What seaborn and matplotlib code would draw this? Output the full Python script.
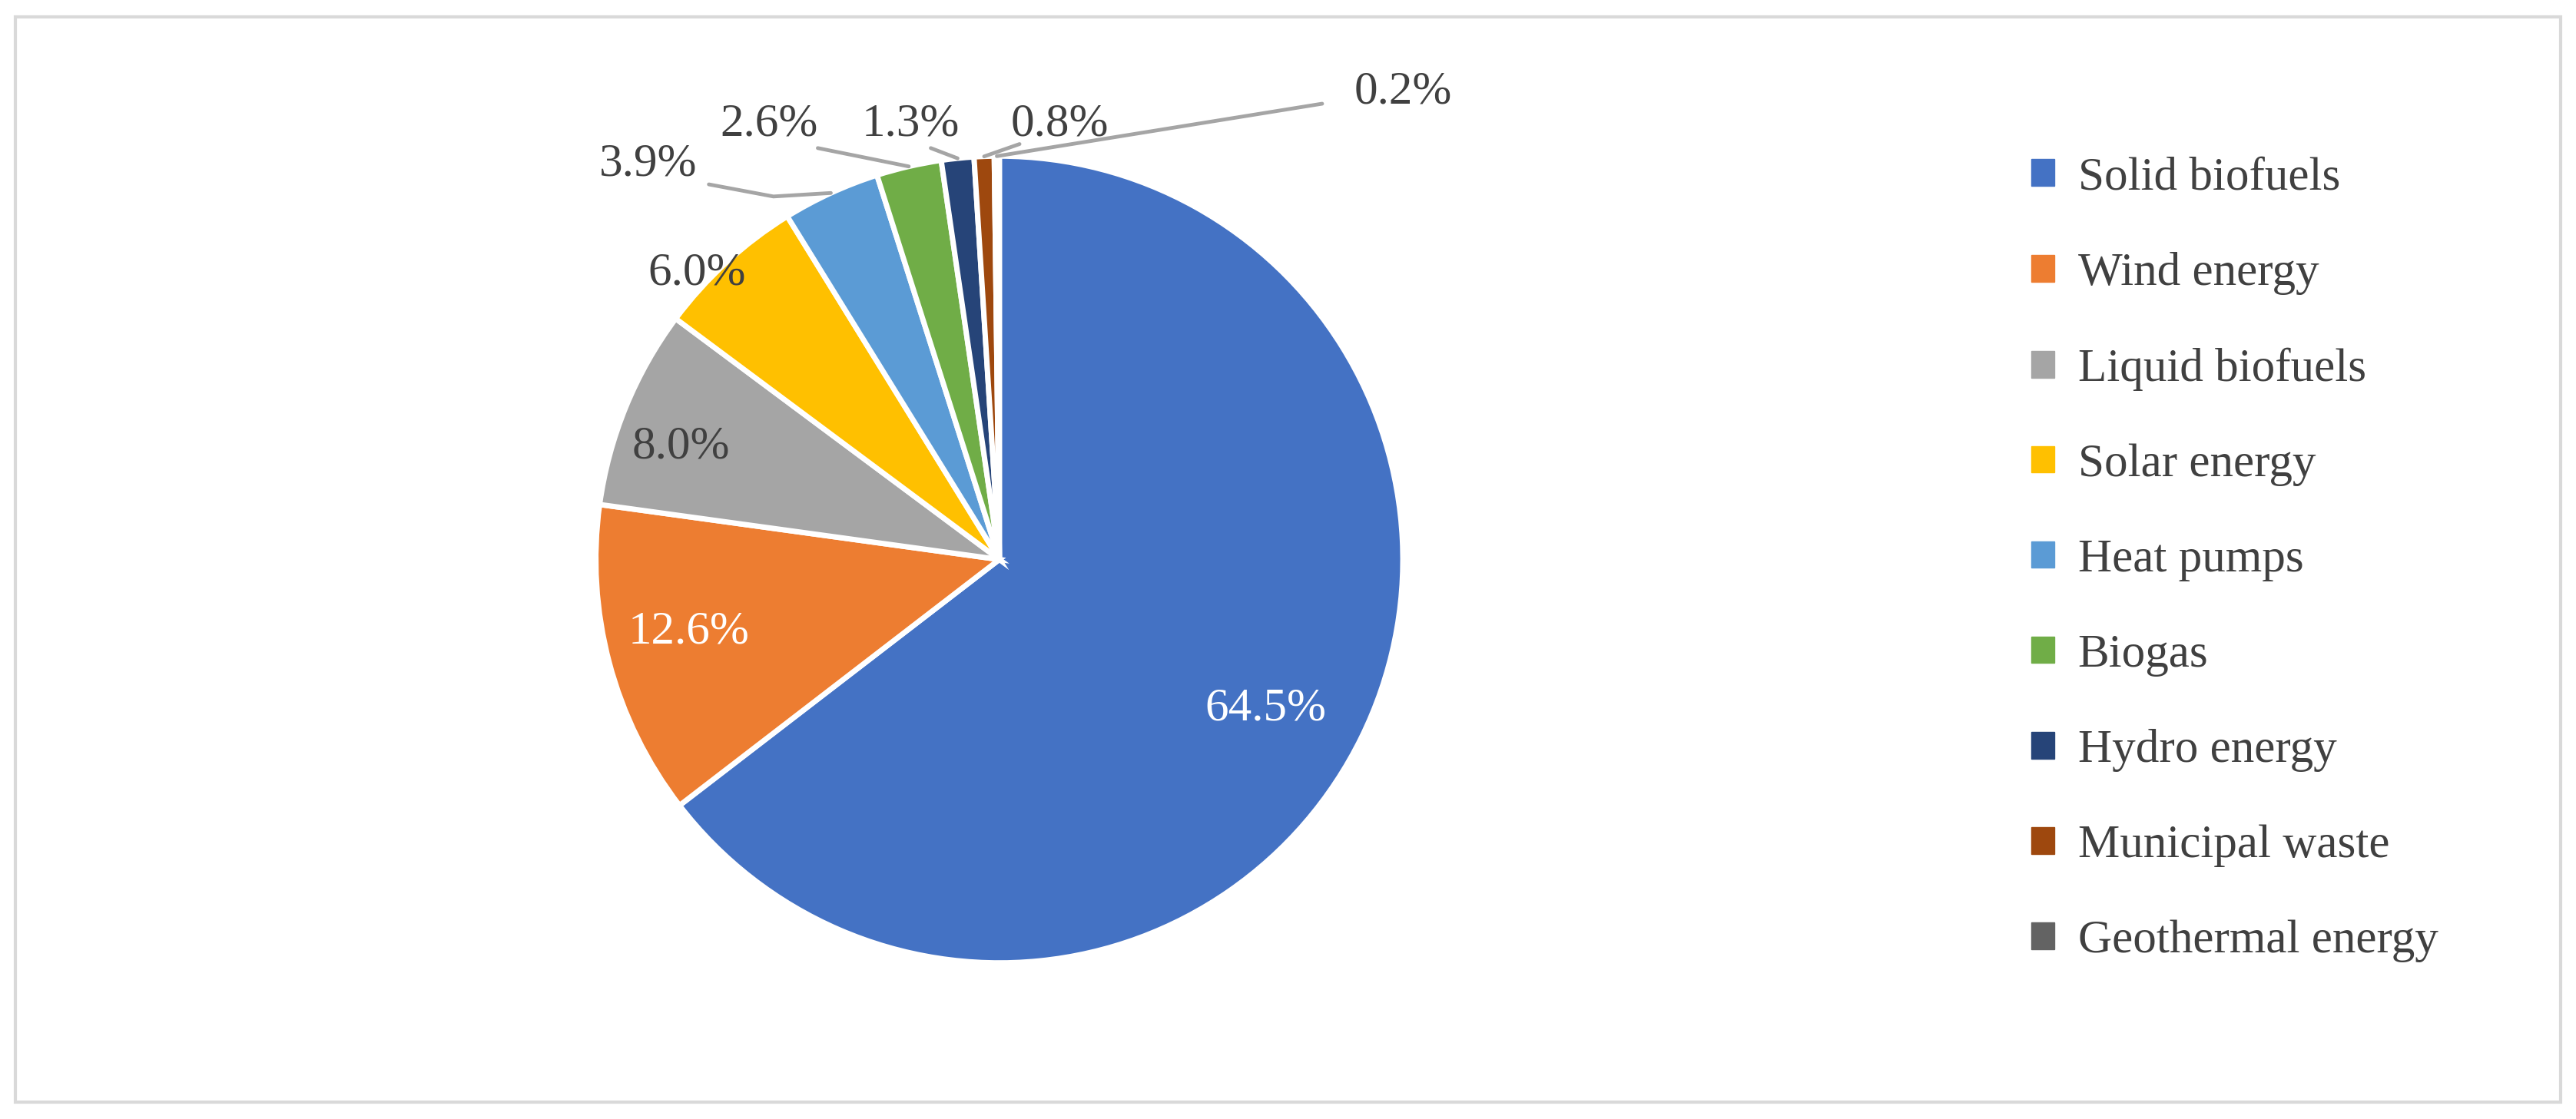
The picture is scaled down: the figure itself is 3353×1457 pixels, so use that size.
import matplotlib
matplotlib.use("Agg")
import matplotlib.pyplot as plt
import seaborn as sns
import numpy as np
from matplotlib.patches import Rectangle, Patch

sns.set_theme(style="white")
plt.rcParams['font.family'] = ['Liberation Serif', 'DejaVu Serif']

categories = ["Solid biofuels", "Wind energy", "Liquid biofuels", "Solar energy",
              "Heat pumps", "Biogas", "Hydro energy", "Municipal waste", "Geothermal energy"]
shares = [64.5, 12.6, 8.0, 6.0, 3.9, 2.6, 1.3, 0.8, 0.2]
colors = ["#4472C4", "#ED7D31", "#A5A5A5", "#FFC000", "#5B9BD5",
          "#70AD47", "#264478", "#9E480E", "#636363"]

# label placement (data units, pie radius = 1)
label_pos = [(0.66, -0.37), (-0.77, -0.18), (-0.79, 0.28), (-0.75, 0.71),
             (-0.87, 0.98), (-0.57, 1.08), (-0.22, 1.08), (0.15, 1.08), (1.0, 1.16)]
label_col = ["white", "white", "#404040"] + ["#404040"] * 6
# leader line anchor near each label (None = no leader)
anchor = [None, None, None, None, (-0.72, 0.93), (-0.45, 1.02), (-0.17, 1.02),
          (0.05, 1.03), (0.8, 1.13)]

fig = plt.figure(figsize=(33.53, 14.57), dpi=100)
ax = fig.add_axes([0.1707, 0.0, 0.4345, 1.0])
wedges, _ = ax.pie(shares, colors=colors, startangle=90, counterclock=False,
                   wedgeprops=dict(edgecolor="white", linewidth=5))
ax.set_xlim(-1.387, 1.387)
ax.set_ylim(-1.387, 1.387)
ax.set_aspect("equal")
ax.axis("off")

for w, v, (tx, ty), c, an in zip(wedges, shares, label_pos, label_col, anchor):
    ax.text(tx, ty, f"{v:.1f}%", ha="center", va="center", fontsize=44, color=c)
    if an is not None:
        ang = np.deg2rad((w.theta1 + w.theta2) / 2)
        ex, ey = np.cos(ang), np.sin(ang)
        xs = [an[0], ex]
        ys = [an[1], ey]
        if an[0] < -0.6:
            xs = [an[0], an[0] + 0.16, ex]
            ys = [an[1], an[1] - 0.03, ey]
        ax.plot(xs, ys, color="#A5A5A5", lw=3.5, clip_on=False)

handles = [Patch(facecolor=c, edgecolor=c) for c in colors]
fig.legend(handles, categories, loc="center left", bbox_to_anchor=(0.772, 0.5),
           frameon=False, fontsize=44, labelspacing=1.12, handlelength=0.5,
           handleheight=0.5, handletextpad=0.5, labelcolor="#404040")

fig.patches.append(Rectangle((0.006, 0.015), 0.988, 0.97, transform=fig.transFigure,
                             fill=False, edgecolor="#D9D9D9", lw=3))
fig.savefig("out.png", dpi=100)
